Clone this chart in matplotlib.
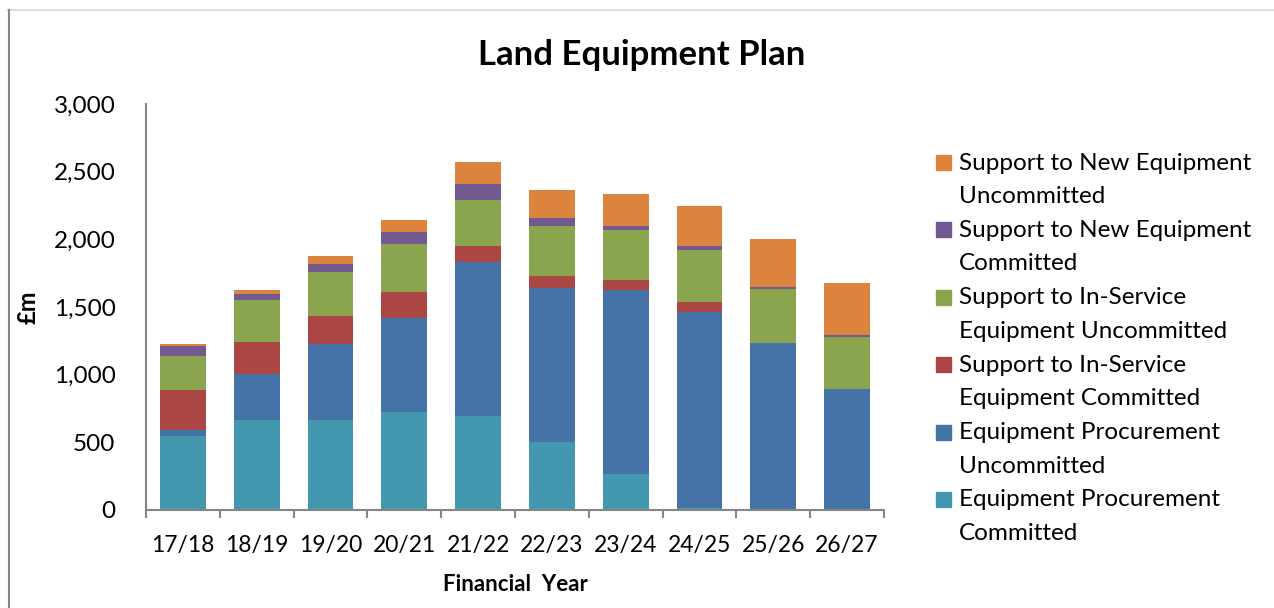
import matplotlib
matplotlib.use('Agg')
import matplotlib.pyplot as plt
from matplotlib.lines import Line2D
from matplotlib.patches import Rectangle
import numpy as np

plt.rcParams['font.family'] = ['Lato', 'DejaVu Sans']

years = ['17/18', '18/19', '19/20', '20/21', '21/22', '22/23', '23/24', '24/25', '25/26', '26/27']

# stacked bottom to top, £m
ep_committed = [545, 663, 663, 722, 693, 500, 264, 12, 0, 0]
ep_uncommitted = [44, 340, 562, 695, 1139, 1139, 1360, 1450, 1237, 897]
sis_committed = [296, 237, 207, 193, 118, 89, 74, 74, 0, 0]
sis_uncommitted = [251, 310, 326, 355, 340, 370, 370, 384, 399, 384]
sne_committed = [74, 45, 59, 88, 118, 59, 30, 30, 15, 15]
sne_uncommitted = [15, 29, 59, 89, 163, 207, 236, 296, 355, 385]

series = [
    ('Equipment Procurement\nCommitted', ep_committed, '#4398b0'),
    ('Equipment Procurement\nUncommitted', ep_uncommitted, '#4673a7'),
    ('Support to In-Service\nEquipment Committed', sis_committed, '#aa4745'),
    ('Support to In-Service\nEquipment Uncommitted', sis_uncommitted, '#8aa54e'),
    ('Support to New Equipment\nCommitted', sne_committed, '#725990'),
    ('Support to New Equipment\nUncommitted', sne_uncommitted, '#dc843e'),
]

W, H = 1274, 608
fig = plt.figure(figsize=(W / 100, H / 100), dpi=100)
ax = fig.add_axes([146 / W, 1 - 510 / H, 738 / W, 406 / H])

x = np.arange(len(years))
bottom = np.zeros(len(years))
for name, vals, col in series:
    ax.bar(x, vals, width=0.62, bottom=bottom, color=col, label=name, zorder=2)
    bottom += np.array(vals)

ax.set_xlim(-0.5, len(years) - 0.5)
ax.set_ylim(0, 3000)
ax.set_yticks(range(0, 3001, 500))
ax.set_yticklabels(['{:,}'.format(v) for v in range(0, 3001, 500)])
ax.set_xticks(x)
ax.set_xticklabels(years)
ax.set_xticks(np.arange(-0.5, len(years)), minor=True)

for s in ['top', 'right']:
    ax.spines[s].set_visible(False)
for s in ['left', 'bottom']:
    ax.spines[s].set_color('#868686')
    ax.spines[s].set_linewidth(1.5)

ax.tick_params(axis='y', length=0, pad=22, labelsize=17.5)
ax.tick_params(axis='x', which='major', length=0, pad=18, labelsize=16.5)
ax.tick_params(axis='x', which='minor', length=6, width=1.5, color='#868686', direction='out')

ax.set_xlabel('Financial  Year', fontsize=16, fontweight='bold')
ax.xaxis.set_label_coords(0.5, -0.157)
ax.set_ylabel('£m', fontsize=17, fontweight='bold')
ax.yaxis.set_label_coords(-0.1436, 0.5)

fig.text(642 / W, 1 - 65 / H, 'Land Equipment Plan', ha='center', va='baseline',
         fontsize=25, fontweight='bold')

# legend, top entry is the top of the stack
for i, (name, vals, col) in enumerate(reversed(series)):
    yc = 163 + 67.4 * i
    fig.add_artist(Rectangle((936 / W, 1 - (yc + 7) / H), 15 / W, 15 / H,
                             transform=fig.transFigure, color=col))
    for j, line in enumerate(name.split('\n')):
        fig.text(959 / W, 1 - (yc + 33.5 * j) / H, line, ha='left', va='center',
                 fontsize=17.5)

# chart frame
fig.add_artist(Line2D([8 / W, 1], [1 - 10 / H, 1 - 10 / H], color='#dddddd', lw=1.5))
fig.add_artist(Line2D([9 / W, 9 / W], [0, 1 - 10 / H], color='#888888', lw=1.5))

fig.savefig('out.png', dpi=100)
